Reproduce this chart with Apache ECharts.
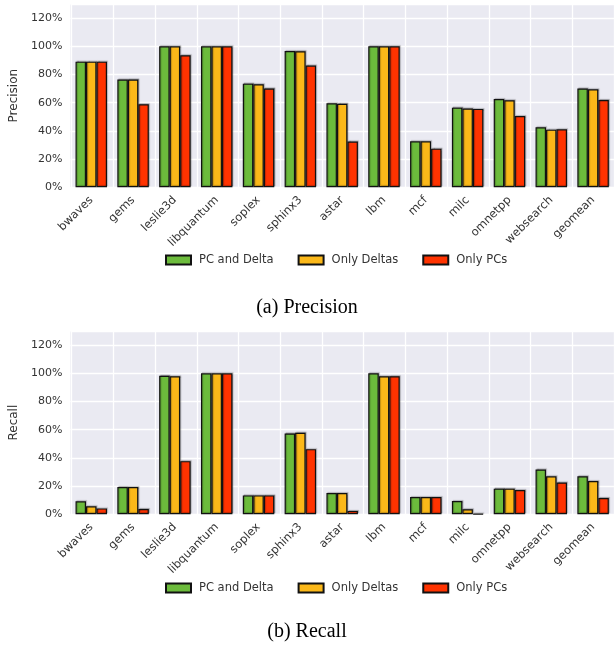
<!DOCTYPE html>
<html>
<head>
<meta charset="utf-8">
<script src="https://cdn.jsdelivr.net/npm/echarts@6/dist/echarts.min.js"></script>
<style>
html,body{margin:0;padding:0;background:#fff;}
#chart{width:614px;height:645px;}
</style>
</head>
<body>
<div id="chart"></div>
<script>
var categories = ['bwaves','gems','leslie3d','libquantum','soplex','sphinx3','astar','lbm','mcf','milc','omnetpp','websearch','geomean'];
var seriesNames = ['PC and Delta','Only Deltas','Only PCs'];
var yTicks = [0,20,40,60,80,100,120];

var precisionPCDelta   = [89.1, 76.4, 100, 100, 73.5, 96.7, 59.6, 100, 32.6, 56.5, 62.6, 42.6, 70.0];
var precisionOnlyDelta = [89.1, 76.4, 100, 100, 73.0, 96.5, 59.3, 100, 32.6, 55.8, 61.7, 40.9, 69.5];
var precisionOnlyPC    = [89.1, 58.9, 93.6, 100, 70.0, 86.3, 32.4, 100, 27.4, 55.6, 50.6, 41.1, 61.9];

var recallPCDelta   = [9.2, 19.3, 98.3, 100, 13.4, 57.3, 15.1, 100, 12.3, 9.4, 18.2, 31.8, 26.9];
var recallOnlyDelta = [5.7, 19.3, 97.9, 100, 13.4, 57.8, 15.1, 97.9, 12.3, 3.5, 18.2, 26.9, 23.6];
var recallOnlyPC    = [4.2, 3.8, 37.7, 100, 13.4, 46.2, 2.4, 97.9, 12.3, 0.3, 17.2, 22.6, 11.6];

var colors = ['#6CBB3C','#FBB819','#FF3300'];
var textColor = '#333333';
var font = 'DejaVu Sans';

var plotLeft = 66.45, plotWidth = 552.5, plotH = 183.3;
var tops = [4, 331];
var groupShift = 5.25; // gridlines at left edge of bar groups

var grids = [], xAxes = [], yAxes = [], series = [];
var datasets = [
  [precisionPCDelta, precisionOnlyDelta, precisionOnlyPC],
  [recallPCDelta, recallOnlyDelta, recallOnlyPC]
];
var yNames = ['Precision','Recall'];

for (var g = 0; g < 2; g++) {
  grids.push({left: plotLeft, top: tops[g], width: plotWidth, height: plotH, show: true,
    backgroundColor: '#EAEAF2', borderWidth: 0, z: 0});
  grids.push({left: plotLeft + groupShift, top: tops[g], width: plotWidth, height: plotH, show: false, z: 0});

  xAxes.push({type: 'category', gridIndex: 2*g, data: categories, z: 1,
    axisLine: {show: false}, axisTick: {show: false}, splitLine: {show: false},
    axisLabel: {interval: 0, rotate: 45, margin: 11, color: textColor, fontFamily: font, fontSize: 11.5}});
  xAxes.push({type: 'value', gridIndex: 2*g+1, min: 0, max: 13, interval: 1, z: 1,
    axisLine: {show: false}, axisTick: {show: false}, axisLabel: {show: false},
    splitLine: {show: true, lineStyle: {color: '#FFFFFF', width: 1.3}}});

  yAxes.push({type: 'value', gridIndex: 2*g, min: 0, max: 130, interval: 20, z: 1,
    name: yNames[g], nameLocation: 'middle', nameGap: 44, nameRotate: 90,
    nameTextStyle: {color: textColor, fontFamily: font, fontSize: 12},
    axisLine: {show: false}, axisTick: {show: false},
    axisLabel: {margin: 8, color: textColor, fontFamily: font, fontSize: 11, showMaxLabel: false,
      formatter: function (v) { return yTicks.indexOf(v) >= 0 ? v + '%' : ''; }},
    splitLine: {show: true, lineStyle: {color: '#FFFFFF', width: 1.3}}});
  yAxes.push({type: 'value', gridIndex: 2*g+1, min: 0, max: 130, show: false, splitLine: {show: false}});

  for (var s = 0; s < 3; s++) {
    series.push({
      type: 'bar', name: seriesNames[s], xAxisIndex: 2*g, yAxisIndex: 2*g,
      data: datasets[g][s], barGap: '0%', barCategoryGap: '24.7%', z: 3,
      itemStyle: {color: colors[s], borderColor: '#111111', borderWidth: 1.2,
        shadowColor: 'rgba(0,0,0,0.25)', shadowBlur: 1, shadowOffsetX: 1, shadowOffsetY: -1},
      emphasis: {disabled: true}
    });
  }
}

var legendBase = {
  data: seriesNames, icon: 'rect', itemWidth: 25, itemHeight: 9, itemGap: 24, left: 165, padding: 0,
  textStyle: {color: textColor, fontFamily: font, fontSize: 11.5, padding: [0,0,0,3]},
  selectedMode: false
};
var legend1 = Object.assign({}, legendBase, {top: 254});
var legend2 = Object.assign({}, legendBase, {top: 582});

var option = {
  animation: false,
  backgroundColor: '#FFFFFF',
  title: [
    {text: '(a) Precision', left: 'center', top: 293,
      textStyle: {fontFamily: 'Liberation Serif', fontSize: 20, fontWeight: 'normal', color: '#000'}},
    {text: '(b) Recall', left: 'center', top: 617,
      textStyle: {fontFamily: 'Liberation Serif', fontSize: 20, fontWeight: 'normal', color: '#000'}}
  ],
  legend: [legend1, legend2],
  grid: grids,
  xAxis: xAxes,
  yAxis: yAxes,
  series: series
};

var chart = echarts.init(document.getElementById('chart'), null, {renderer: 'canvas'});
chart.setOption(option);
</script>
</body>
</html>
